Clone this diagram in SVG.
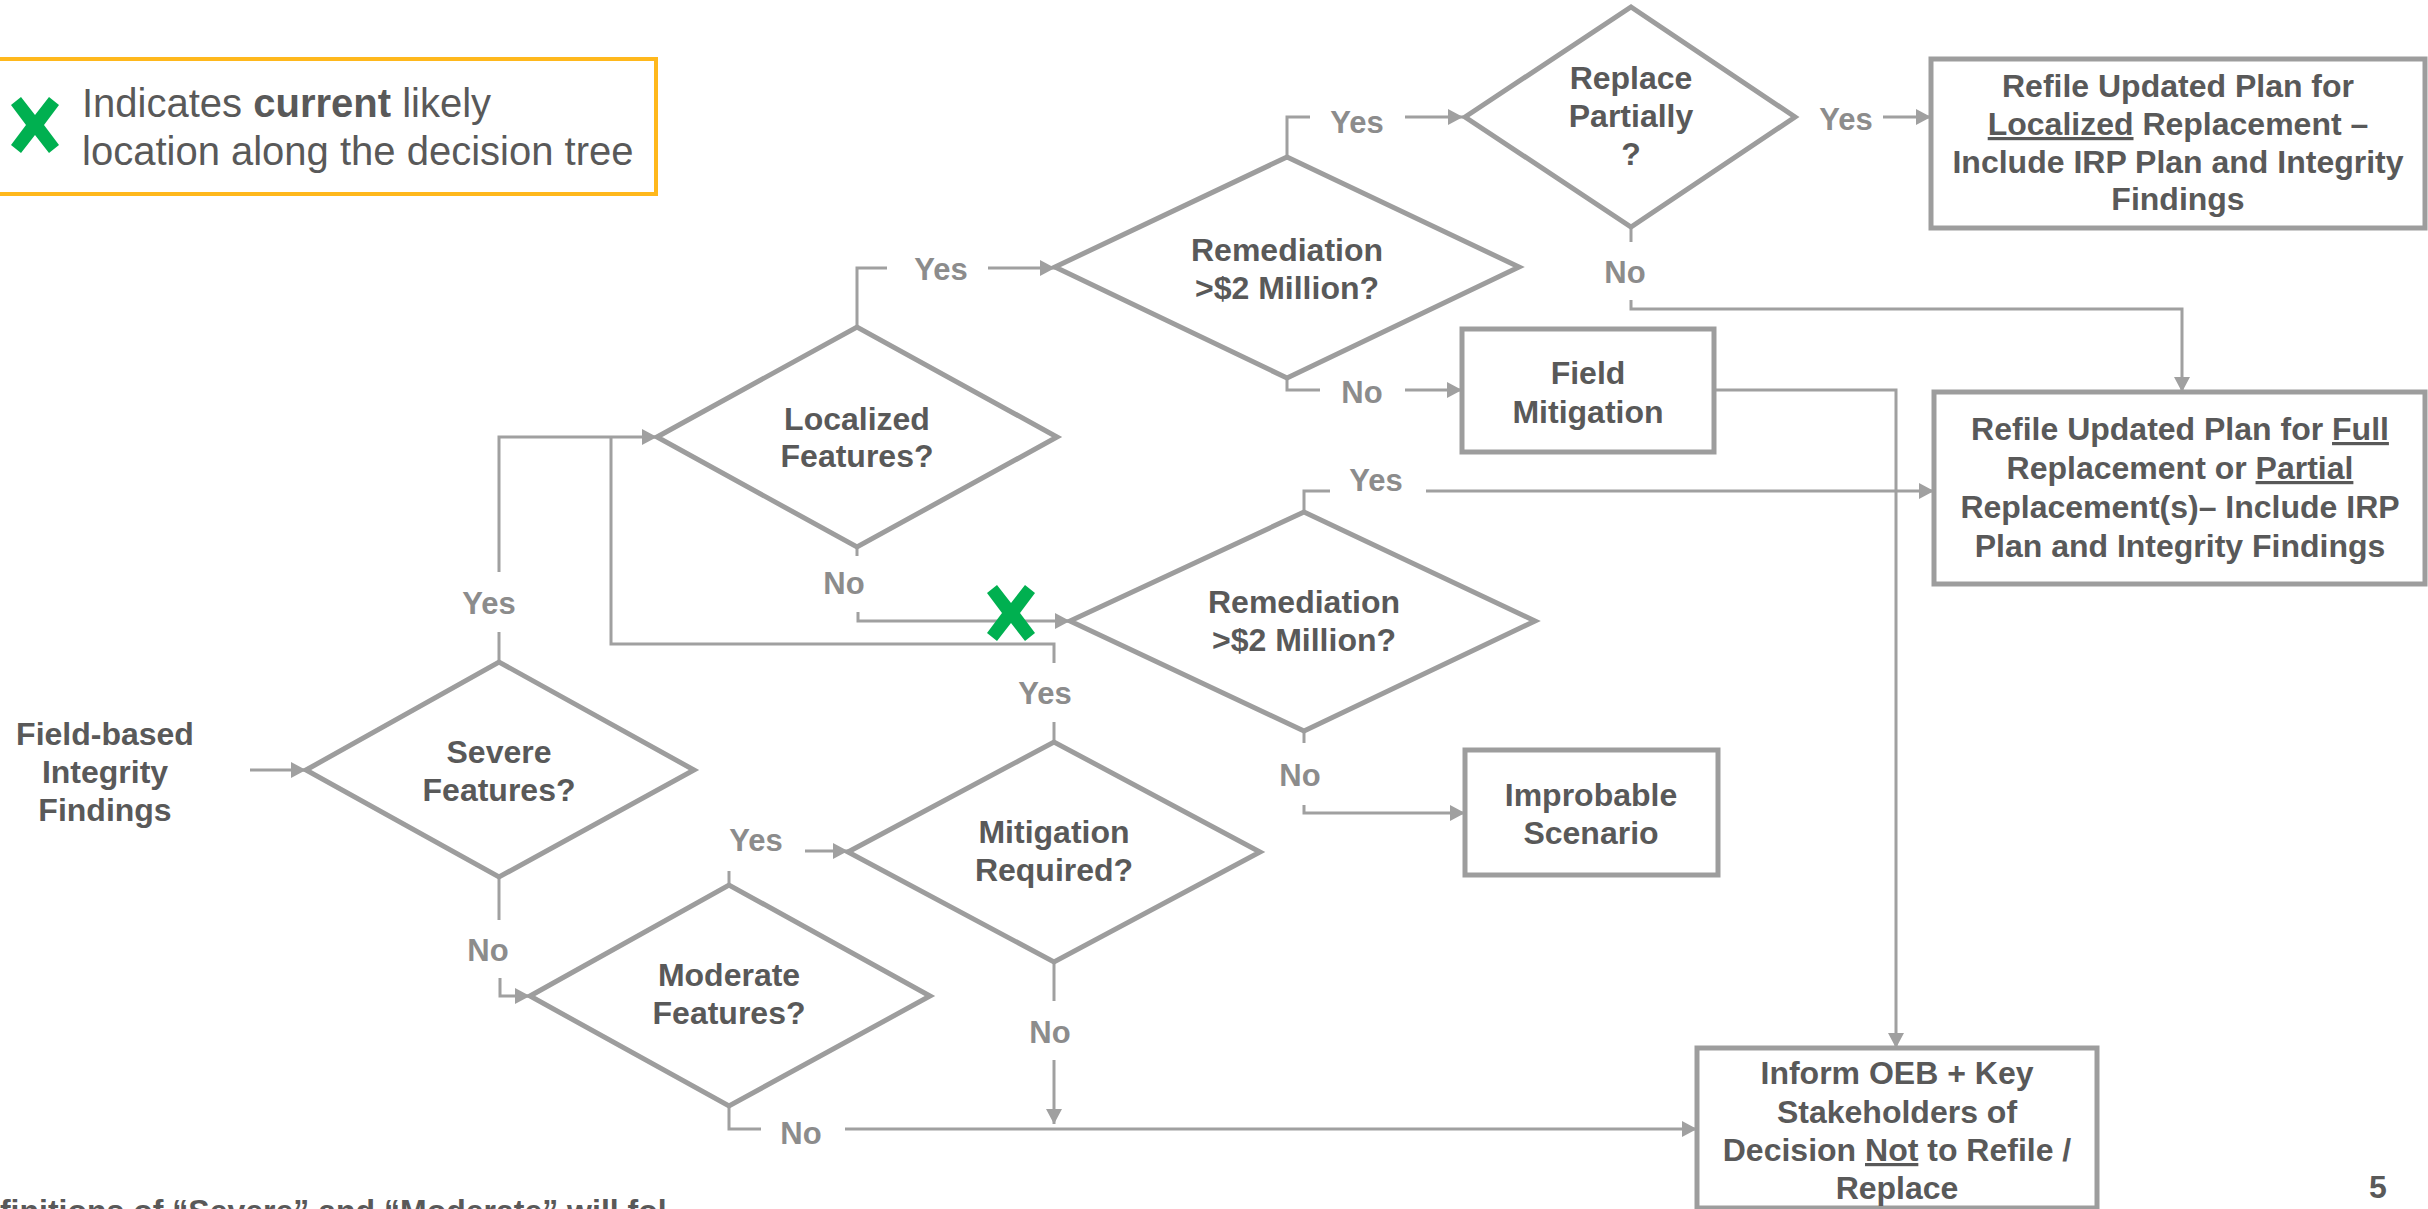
<svg xmlns="http://www.w3.org/2000/svg" width="2428" height="1209" viewBox="0 0 2428 1209">
  <style>
    .shape { fill: #ffffff; stroke: #9d9d9d; stroke-width: 5; }
    .box { fill: #ffffff; stroke: #9d9d9d; stroke-width: 5; }
    .conn { fill: none; stroke: #a0a0a0; stroke-width: 3; }
    .node-text { font-family: "Liberation Sans", Arial, sans-serif; font-weight: bold; font-size: 32px; fill: #595959; text-anchor: middle; }
    .lbl { font-family: "Liberation Sans", Arial, sans-serif; font-weight: bold; font-size: 31px; fill: #8c8c8c; text-anchor: middle; }
    .legend-text { font-family: "Liberation Sans", Arial, sans-serif; font-size: 40px; fill: #595959; }
    .u { text-decoration: underline; }
  </style>
  <defs>
    <marker id="arrow" markerUnits="userSpaceOnUse" markerWidth="16" markerHeight="16" refX="15" refY="8" orient="auto">
      <path d="M0,0 L15,8 L0,16 Z" fill="#a0a0a0"/>
    </marker>
    <path id="xmark" d="M-24,-20 L-14,-28 L0,-10 L14,-28 L24,-20 L9,0 L24,20 L14,28 L0,10 L-14,28 L-24,20 L-9,0 Z" fill="#00b050"/>
  </defs>

  <rect width="2428" height="1209" fill="#ffffff"/>

  <!-- legend -->
  <g id="legend">
    <rect x="-4" y="59" width="660" height="135" fill="#ffffff" stroke="#ffb81c" stroke-width="4"/>
    <use href="#xmark" x="35" y="125"/>
    <text class="legend-text" x="82" y="117">Indicates <tspan font-weight="bold">current</tspan> likely</text>
    <text class="legend-text" x="82" y="165">location along the decision tree</text>
  </g>

  <!-- connectors -->
  <g id="connectors">
    <path class="conn" d="M250,770 H306" marker-end="url(#arrow)"/>
    <!-- Severe: Yes -->
    <path class="conn" d="M499,662 V632"/>
    <path class="conn" d="M499,572 V437 H657" marker-end="url(#arrow)"/>
    <!-- Mitigation: Yes loops back -->
    <path class="conn" d="M1054,742 V722"/>
    <path class="conn" d="M1054,663 V644 H611 V437"/>
    <!-- Localized: Yes -->
    <path class="conn" d="M857,327 V268 H887"/>
    <path class="conn" d="M988,268 H1055" marker-end="url(#arrow)"/>
    <!-- Localized: No -->
    <path class="conn" d="M857,547 V556"/>
    <path class="conn" d="M858,612 V621 H1070" marker-end="url(#arrow)"/>
    <!-- Remediation (upper): Yes -->
    <path class="conn" d="M1287,157 V117 H1310"/>
    <path class="conn" d="M1405,117 H1463" marker-end="url(#arrow)"/>
    <!-- Remediation (upper): No -->
    <path class="conn" d="M1287,378 V390 H1320"/>
    <path class="conn" d="M1405,390 H1462" marker-end="url(#arrow)"/>
    <!-- Replace Partially: Yes -->
    <path class="conn" d="M1883,117 H1931" marker-end="url(#arrow)"/>
    <!-- Replace Partially: No -->
    <path class="conn" d="M1631,227 V242"/>
    <path class="conn" d="M1631,300 V309 H2182 V392" marker-end="url(#arrow)"/>
    <!-- Remediation (lower): Yes -->
    <path class="conn" d="M1304,512 V491 H1330"/>
    <path class="conn" d="M1426,491 H1934" marker-end="url(#arrow)"/>
    <!-- Remediation (lower): No -->
    <path class="conn" d="M1304,731 V743"/>
    <path class="conn" d="M1304,805 V813 H1465" marker-end="url(#arrow)"/>
    <!-- Field Mitigation to Inform -->
    <path class="conn" d="M1714,390 H1896 V1048" marker-end="url(#arrow)"/>
    <!-- Moderate: Yes -->
    <path class="conn" d="M729,885 V871"/>
    <path class="conn" d="M805,851 H848" marker-end="url(#arrow)"/>
    <!-- Severe: No -->
    <path class="conn" d="M499,877 V920"/>
    <path class="conn" d="M500,978 V996 H530" marker-end="url(#arrow)"/>
    <!-- Mitigation: No -->
    <path class="conn" d="M1054,962 V1001"/>
    <path class="conn" d="M1054,1060 V1124" marker-end="url(#arrow)"/>
    <!-- Moderate: No -->
    <path class="conn" d="M729,1106 V1129 H761"/>
    <path class="conn" d="M845,1129 H1697" marker-end="url(#arrow)"/>

    <!-- branch labels -->
    <text class="lbl" x="489" y="614">Yes</text>
    <text class="lbl" x="1045" y="704">Yes</text>
    <text class="lbl" x="941" y="280">Yes</text>
    <text class="lbl" x="844" y="594">No</text>
    <text class="lbl" x="1357" y="133">Yes</text>
    <text class="lbl" x="1362" y="403">No</text>
    <text class="lbl" x="1846" y="130">Yes</text>
    <text class="lbl" x="1625" y="283">No</text>
    <text class="lbl" x="1376" y="491">Yes</text>
    <text class="lbl" x="1300" y="786">No</text>
    <text class="lbl" x="756" y="851">Yes</text>
    <text class="lbl" x="488" y="961">No</text>
    <text class="lbl" x="1050" y="1043">No</text>
    <text class="lbl" x="801" y="1144">No</text>
  </g>

  <!-- start -->
  <g id="field-findings">
    <text class="node-text" x="105" y="745">Field-based</text>
    <text class="node-text" x="105" y="783">Integrity</text>
    <text class="node-text" x="105" y="821">Findings</text>
  </g>

  <g id="severe">
    <polygon class="shape" points="306,770 499,662 694,770 499,877"/>
    <text class="node-text" x="499" y="763">Severe</text>
    <text class="node-text" x="499" y="801">Features?</text>
  </g>

  <g id="localized">
    <polygon class="shape" points="657,437 857,327 1057,437 857,547"/>
    <text class="node-text" x="857" y="430">Localized</text>
    <text class="node-text" x="857" y="467">Features?</text>
  </g>

  <g id="remediation-upper">
    <polygon class="shape" points="1055,267 1287,157 1519,267 1287,378"/>
    <text class="node-text" x="1287" y="261">Remediation</text>
    <text class="node-text" x="1287" y="299">&gt;$2 Million?</text>
  </g>

  <g id="replace-partially">
    <polygon class="shape" points="1465,117 1631,7 1795,117 1631,227"/>
    <text class="node-text" x="1631" y="89">Replace</text>
    <text class="node-text" x="1631" y="127">Partially</text>
    <text class="node-text" x="1631" y="165">?</text>
  </g>

  <g id="refile-localized">
    <rect class="box" x="1931" y="59" width="494" height="169"/>
    <text class="node-text" x="2178" y="97">Refile Updated Plan for</text>
    <text class="node-text" x="2178" y="135"><tspan class="u">Localized</tspan> Replacement –</text>
    <text class="node-text" x="2178" y="173">Include IRP Plan and Integrity</text>
    <text class="node-text" x="2178" y="210">Findings</text>
  </g>

  <g id="field-mitigation">
    <rect class="box" x="1462" y="329" width="252" height="123"/>
    <text class="node-text" x="1588" y="384">Field</text>
    <text class="node-text" x="1588" y="423">Mitigation</text>
  </g>

  <g id="refile-full">
    <rect class="box" x="1934" y="392" width="491" height="192"/>
    <text class="node-text" x="2180" y="440">Refile Updated Plan for <tspan class="u">Full</tspan></text>
    <text class="node-text" x="2180" y="479">Replacement or <tspan class="u">Partial</tspan></text>
    <text class="node-text" x="2180" y="518">Replacement(s)– Include IRP</text>
    <text class="node-text" x="2180" y="557">Plan and Integrity Findings</text>
  </g>

  <g id="remediation-lower">
    <polygon class="shape" points="1070,621 1304,512 1535,621 1304,731"/>
    <text class="node-text" x="1304" y="613">Remediation</text>
    <text class="node-text" x="1304" y="651">&gt;$2 Million?</text>
  </g>

  <g id="improbable">
    <rect class="box" x="1465" y="750" width="253" height="125"/>
    <text class="node-text" x="1591" y="806">Improbable</text>
    <text class="node-text" x="1591" y="844">Scenario</text>
  </g>

  <g id="mitigation">
    <polygon class="shape" points="848,852 1054,742 1260,852 1054,962"/>
    <text class="node-text" x="1054" y="843">Mitigation</text>
    <text class="node-text" x="1054" y="881">Required?</text>
  </g>

  <g id="moderate">
    <polygon class="shape" points="530,996 729,885 930,996 729,1106"/>
    <text class="node-text" x="729" y="986">Moderate</text>
    <text class="node-text" x="729" y="1024">Features?</text>
  </g>

  <g id="inform">
    <rect class="box" x="1697" y="1048" width="400" height="160"/>
    <text class="node-text" x="1897" y="1084">Inform OEB + Key</text>
    <text class="node-text" x="1897" y="1123">Stakeholders of</text>
    <text class="node-text" x="1897" y="1161">Decision <tspan class="u">Not</tspan> to Refile /</text>
    <text class="node-text" x="1897" y="1199">Replace</text>
  </g>

  <!-- current position marker -->
  <use id="current-marker" href="#xmark" x="1011" y="613"/>

  <!-- footnote (runs off the bottom-left edge) and page number -->
  <text class="node-text" x="-41" y="1222" style="text-anchor:start" font-size="34">Definitions of “Severe” and “Moderate” will fol</text>
  <text class="node-text" x="2378" y="1198" font-size="30">5</text>
</svg>
